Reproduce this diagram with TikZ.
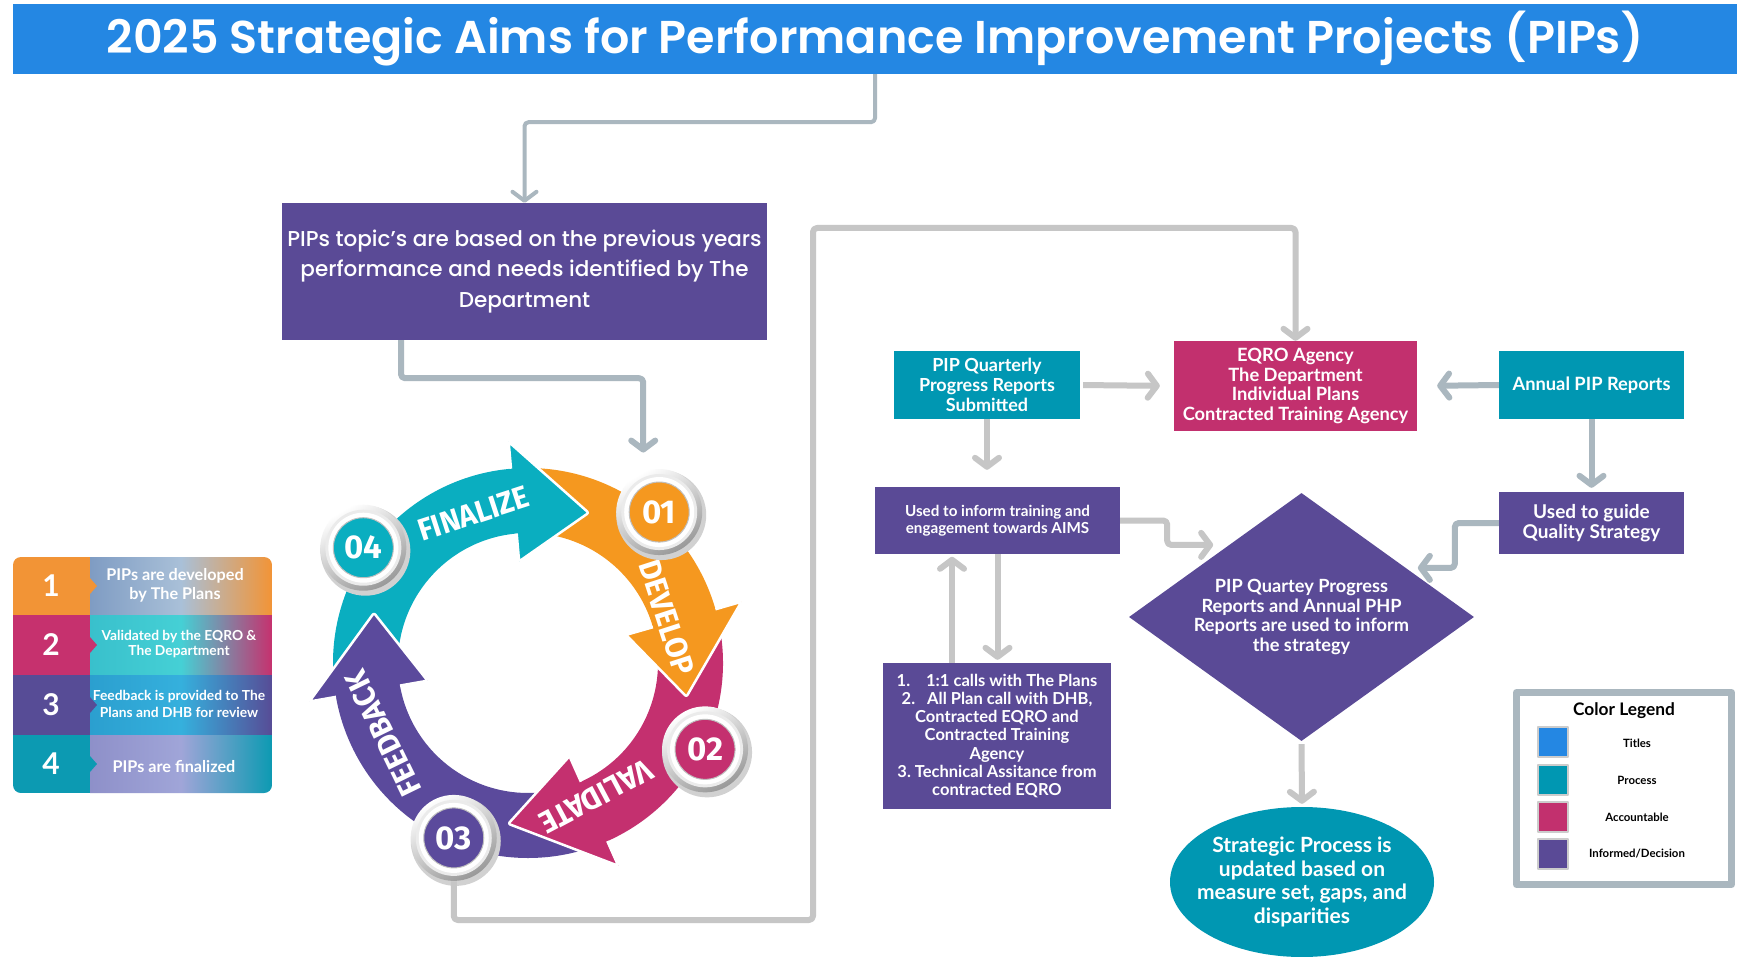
\documentclass[tikz,border=0pt]{standalone}
\usepackage{fontspec}
\usepackage{graphicx}
\usepackage{tikz}
\usetikzlibrary{arrows.meta,shapes.geometric}
\newfontfamily\popfont{Poppins}[UprightFont=* Medium,BoldFont=* SemiBold]
\newfontfamily\latofont{Lato}
\newfontfamily\firafont{Fira Sans}
\newcommand\narrow[1]{\scalebox{0.95}[1]{#1}}
\definecolor{title_blue}{RGB}{36,135,227}
\definecolor{node_purple}{RGB}{90,74,150}
\definecolor{node_teal}{RGB}{0,151,178}
\definecolor{node_red}{RGB}{194,48,110}
\definecolor{edge_gray}{RGB}{198,198,198}
\definecolor{edge_blue}{RGB}{170,183,191}
\definecolor{ring_teal}{RGB}{10,174,192}
\definecolor{ring_orange}{RGB}{245,152,31}
\definecolor{ring_red}{RGB}{196,48,111}
\definecolor{ring_purple}{RGB}{91,74,156}
\definecolor{row_orange}{RGB}{242,148,54}
\definecolor{row_red}{RGB}{198,49,110}
\definecolor{row_purple}{RGB}{87,76,150}
\definecolor{row_teal}{RGB}{12,154,178}
\definecolor{row1_l}{RGB}{127,156,195}
\definecolor{row1_m}{RGB}{169,192,216}
\definecolor{row2_l}{RGB}{57,192,204}
\definecolor{row2_m}{RGB}{69,208,213}
\definecolor{row3_l}{RGB}{43,159,207}
\definecolor{row3_m}{RGB}{53,176,221}
\definecolor{row4_l}{RGB}{142,144,201}
\definecolor{row4_m}{RGB}{160,165,216}

\begin{document}
\begin{tikzpicture}[x=1pt,y=-1pt,line join=round]
    \tikzstyle{box}=[rectangle, inner sep=0pt, text=white, align=center, font={\latofont\bfseries\fontsize{18.3}{19.7}\selectfont}]
    \tikzstyle{proc}=[style=box, fill=node_teal]
    \tikzstyle{acc}=[style=box, fill=node_red]
    \tikzstyle{inf}=[style=box, fill=node_purple]
    \tikzstyle{lgray}=[draw=edge_gray, line width=6pt, rounded corners=4pt, -{Straight Barb[length=9pt,width=24pt,round]}]
    \tikzstyle{bgray}=[style=lgray, draw=edge_blue]
    \tikzstyle{ringtxt}=[text=white, inner sep=0pt, font={\firafont\bfseries\fontsize{31}{31}\selectfont}]
    \tikzstyle{badge}=[circle, minimum size=60pt, inner sep=0pt, draw=black!25, line width=1pt, text=white, font={\firafont\bfseries\fontsize{33}{33}\selectfont}]
    \tikzstyle{rownum}=[text=white, font={\latofont\bfseries\fontsize{30}{30}\selectfont}]
    \tikzstyle{rowtxt}=[text=white, align=center, inner sep=0pt]
    \tikzstyle{swatch}=[rectangle, minimum size=30pt, inner sep=0pt, draw=black!20, line width=1.5pt]
    \tikzstyle{lbl}=[font={\latofont\bfseries\fontsize{11.4}{13}\selectfont}]

    \useasboundingbox[fill=white] (0,0) rectangle (1742,957);

    \node[box, fill=title_blue, minimum width=1724pt, minimum height=70pt, font={\popfont\bfseries\fontsize{46}{46}\selectfont}] (t) at (875,39)
        {2025 Strategic Aims for Performance Improvement Projects (PIPs)};
    \node[inf, minimum width=485pt, minimum height=137pt, font={\popfont\fontsize{21.5}{30.5}\selectfont}] (b) at (524.5,271.5)
        {PIPs topic’s are based on the previous years\\performance and needs identified by The\\Department};

    \node[proc, minimum width=186pt, minimum height=68pt, font={\latofont\bfseries\fontsize{18}{20}\selectfont}] (q) at (987,385) {PIP Quarterly\\Progress Reports\\Submitted};
    \node[acc, minimum width=243pt, minimum height=90pt] (e) at (1295.5,386) {EQRO Agency\\The Department\\Individual Plans\\Contracted Training Agency};
    \node[proc, minimum width=185pt, minimum height=68pt] (n) at (1591.5,385) {Annual PIP Reports};
    \node[inf, minimum width=245pt, minimum height=67pt, font={\latofont\bfseries\fontsize{15.2}{16.7}\selectfont}] (i) at (997.5,520.5)
        {Used to inform training and\\engagement towards AIMS};
    \node[inf, minimum width=185pt, minimum height=62pt, font={\latofont\bfseries\fontsize{19}{20}\selectfont}] (g) at (1591.5,523) {Used to guide\\Quality Strategy};
    \node[inf, shape=diamond, aspect=1.39, minimum width=345pt, minimum height=248pt, font={\latofont\bfseries\fontsize{18.2}{19.6}\selectfont}] (d) at (1301.5,617)
        {PIP Quartey Progress\\Reports and Annual PHP\\Reports are used to inform\\the strategy};
    \node[proc, shape=ellipse, inner sep=-12pt, minimum width=264pt, minimum height=150pt, font={\latofont\bfseries\fontsize{21}{23.7}\selectfont}] (s) at (1302,882)
        {Strategic Process is\\updated based on\\measure set, gaps, and\\disparities};
    \node[inf, minimum width=228pt, minimum height=146pt, font={\latofont\bfseries\fontsize{16.5}{18.3}\selectfont}] (l) at (997,736)
        {1.\hspace{16pt}1:1 calls with The Plans\\2.\hspace{12pt}All Plan call with DHB,\\Contracted EQRO and\\Contracted Training\\Agency\\3.\hspace{4pt}Technical Assitance from\\contracted EQRO};

    \begin{scope}
        \clip[rounded corners=8pt] (13,557) rectangle (272,793);
        \fill[row_orange] (13,557) rectangle (90,615);
        \fill[row_red] (13,615) rectangle (90,675);
        \fill[row_purple] (13,675) rectangle (90,735);
        \fill[row_teal] (13,735) rectangle (90,793);
        \shade[left color=row1_l, right color=row_orange, middle color=row1_m] (90,557) rectangle (272,615);
        \shade[left color=row2_l, right color=row_red, middle color=row2_m] (90,615) rectangle (272,675);
        \shade[left color=row3_l, right color=row_purple, middle color=row3_m] (90,675) rectangle (272,735);
        \shade[left color=row4_l, right color=row_teal, middle color=row4_m] (90,735) rectangle (272,793);
        \foreach \c/\y in {row_orange/586, row_red/645, row_purple/705, row_teal/764}
            \fill[\c] (90,\y-8) -- (97,\y) -- (90,\y+8) -- cycle;
    \end{scope}
    \node[rownum] (r1) at (51,586) {1};
    \node[rownum] (r2) at (51,645) {2};
    \node[rownum] (r3) at (51,705) {3};
    \node[rownum] (r4) at (51,764) {4};
    \node[rowtxt, font={\latofont\bfseries\fontsize{16.2}{19}\selectfont}] (p1) at (175,585) {PIPs are developed\\by The Plans};
    \node[rowtxt, font={\latofont\bfseries\fontsize{13.8}{15.5}\selectfont}] (p2) at (179,644) {Validated by the EQRO \&\\The Department};
    \node[rowtxt, font={\latofont\bfseries\fontsize{13.8}{16.7}\selectfont}] (p3) at (179,704) {Feedback is provided to The\\Plans and DHB for review};
    \node[rowtxt, font={\latofont\bfseries\fontsize{16.2}{18}\selectfont}] (p4) at (174,767) {PIPs are finalized};

    \begin{scope}[shift={(528,663)}, y=1pt]
        \foreach \c/\s/\b in {ring_teal/183/93, ring_orange/88/14, ring_red/9/-68, ring_purple/-73/-172}
            \fill[\c] (\s:195) arc (\s:\b:195) -- (\b:130) arc (\b:\s:130) -- cycle;
        \foreach \c/\b/\t in {ring_teal/95/68, ring_orange/16/-12, ring_red/-66/-97, ring_purple/-170/-198} {
            \fill[\c] (\b:195) -- (\b:222) -- (\t:162) -- (\b:102) -- (\b:130) -- cycle;
            \draw[white, line width=2.5pt, rounded corners=2pt] (\b:195) -- (\b:222) -- (\t:162) -- (\b:102) -- (\b:130);
        }
        \node[ringtxt, rotate=18] (w4) at (110:159) {\narrow{FINALIZE}};
        \node[ringtxt, rotate=-72] (w1) at (18:146) {\narrow{DEVELOP}};
        \node[ringtxt, rotate=-152] (w2) at (-63:150) {\narrow{VALIDATE}};
        \node[ringtxt, rotate=116] (w3) at (206:161) {\narrow{FEEDBACK}};
        \foreach \a/\r in {49/200, -26/197, -113/190, 145/201} {
            \fill[black!18] (\a:\r) ++(2,-3) circle (45);
            \shade[top color=white, bottom color=black!40, shading angle=30] (\a:\r) circle (43);
            \fill[black!8] (\a:\r) circle (38);
            \fill[white] (\a:\r) circle (35);
        }
        \node[badge, fill=ring_orange] (c1) at (49:200) {01};
        \node[badge, fill=ring_red] (c2) at (-26:197) {02};
        \node[badge, fill=ring_purple] (c3) at (-113:190) {03};
        \node[badge, fill=ring_teal] (c4) at (145:201) {04};
    \end{scope}

    \draw[bgray, line width=4pt] (t.south) -- ++(0,48) -| (b.north);
    \draw[bgray, shorten >=29pt] ([xshift=-123.5pt]b.south) -- ++(0,38) -| ([xshift=-16pt]c1.north);
    \draw[lgray, shorten <=13pt] (c3.south) |- (813,920) -- (813,228) -| (e.north);
    \draw[bgray, shorten >=30pt] (g.west) -- ++(-44,0) |- ([yshift=-13pt]d.north east);
    \draw[lgray, shorten >=2pt] (i.east) -- ++(47,0) |- ([yshift=10pt]d.north west);
    \draw[lgray, shorten >=3pt] ([xshift=-45pt]l.north) -- ++(0,-109);
    \path
     (q.east) edge[lgray, shorten <=3pt, shorten >=14pt] (e.west)
     (n.west) edge[bgray, shorten >=20pt] (e.east)
     (n.south) edge[bgray, shorten >=4pt] (g.north)
     (q.south) edge[lgray, shorten >=17pt] (q.south |- i.north)
     (i.south) edge[lgray, shorten >=3pt] (i.south |- l.north)
     (d.south) edge[lgray, shorten <=3pt, shorten >=3pt] (s.north)
     ;

    \draw[edge_blue, line width=7pt] (1516.5,692.5) rectangle (1731.5,884.5);
    \node[font={\latofont\bfseries\fontsize{17.3}{19}\selectfont}] (k) at (1624,711) {Color Legend};
    \node[swatch, fill=title_blue] (k1) at (1553,742) {};
    \node[swatch, fill=node_teal] (k2) at (1553,780) {};
    \node[swatch, fill=node_red] (k3) at (1553,817) {};
    \node[swatch, fill=node_purple] (k4) at (1553,854) {};
    \node[lbl] (m1) at (1637,743) {Titles};
    \node[lbl] (m2) at (1637,780) {Process};
    \node[lbl] (m3) at (1637,817) {Accountable};
    \node[lbl] (m4) at (1637,854) {Informed/Decision};
\end{tikzpicture}
\end{document}
